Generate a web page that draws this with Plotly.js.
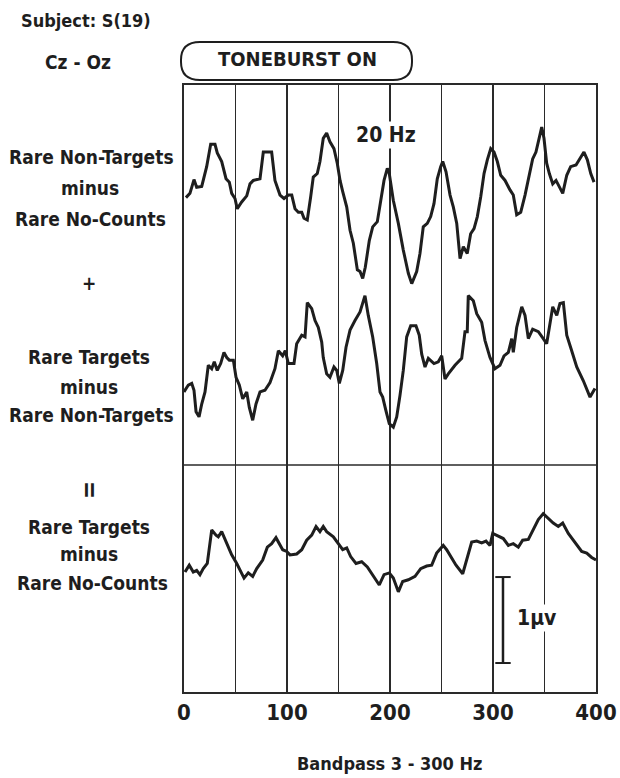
<!DOCTYPE html>
<html>
<head>
<meta charset="utf-8">
<script src="https://cdn.plot.ly/plotly-3.0.1.min.js"></script>
<style>
  html, body { margin: 0; padding: 0; background: #fff; }
  #chart { width: 620px; height: 778px; }
</style>
</head>
<body>
<div id="chart"></div>
<script>
// ---- Data (time in ms, amplitude in microvolts) ----
const TIME_NT_NC = [1.9,5.8,9.7,12.3,17.2,22.0,25.9,30.1,32.3,36.6,40.8,44.0,46.3,49.5,51.7,56.0,60.9,64.1,67.3,73.8,77.0,81.8,85.1,88.3,93.2,97.1,101.3,104.6,107.8,111.0,114.3,116.5,119.7,123.0,125.5,129.4,132.0,135.2,138.5,141.7,145.6,148.8,151.5,154.1,158.0,161.2,164.4,168.3,170.9,173.5,176.0,179.9,183.2,187.7,191.9,194.2,197.4,199.3,203.2,208.1,212.9,217.8,221.1,225.9,229.1,232.3,236.2,239.5,242.7,245.9,249.2,251.2,254.4,258.3,261.5,264.8,268.0,271.2,275.0,278.3,281.6,284.8,288.1,291.3,294.5,297.8,301.0,304.2,307.5,311.7,316.5,319.7,323.0,326.9,331.1,335.2,338.5,341.7,345.0,347.3,349.5,352.1,354.7,358.0,361.2,365.0,367.7,371.6,375.4,380.6,384.5,388.3,391.6,394.9,398.1];
const AMP_NT_NC = [0.03,0.08,0.24,0.15,0.16,0.39,0.65,0.65,0.55,0.45,0.25,0.21,0.08,0.02,-0.10,-0.02,0.05,0.19,0.23,0.25,0.56,0.56,0.56,0.23,0.06,0.02,0.06,0.06,-0.10,-0.14,-0.14,-0.21,-0.23,0.04,0.27,0.31,0.45,0.72,0.78,0.68,0.60,0.43,0.23,0.10,-0.08,-0.35,-0.50,-0.81,-0.83,-0.91,-0.78,-0.47,-0.31,-0.25,0.06,0.23,0.37,0.31,0.00,-0.27,-0.58,-0.85,-0.97,-0.83,-0.62,-0.31,-0.27,-0.19,-0.04,0.25,0.39,0.45,0.33,0.06,-0.08,-0.27,-0.68,-0.54,-0.62,-0.39,-0.33,-0.19,0.04,0.31,0.47,0.60,0.56,0.45,0.29,0.23,0.12,0.06,-0.17,-0.14,0.06,0.29,0.48,0.56,0.72,0.85,0.72,0.43,0.31,0.19,0.23,0.15,0.08,0.29,0.39,0.41,0.48,0.56,0.47,0.31,0.21];

const TIME_T_NT = [0.0,4.2,7.5,9.7,11.7,14.6,17.2,20.4,23.6,26.9,29.4,32.3,35.6,38.8,41.5,44.0,47.9,50.5,53.7,57.0,60.9,63.4,66.7,69.9,73.8,78.6,83.5,88.3,91.6,95.8,98.3,101.3,106.8,109.4,114.3,117.5,119.7,124.0,127.2,130.4,133.7,135.2,138.5,141.7,145.6,148.3,150.8,154.1,157.3,161.2,166.0,170.9,175.7,178.9,183.2,187.1,190.3,192.9,196.1,199.3,203.2,206.5,209.7,212.9,216.2,220.1,225.2,228.4,230.8,234.0,237.2,242.7,246.9,250.2,253.4,256.6,263.1,269.6,272.8,275.0,276.0,280.9,284.2,289.0,292.2,297.1,301.9,306.8,310.7,314.9,318.2,319.7,323.0,327.9,331.1,334.3,338.5,344.0,348.8,352.1,354.7,358.0,361.9,365.0,368.3,371.6,376.4,381.3,387.7,394.2,399.0];
const AMP_T_NT = [-0.25,-0.17,-0.15,-0.23,-0.48,-0.54,-0.39,-0.25,0.06,0.02,0.10,0.00,0.08,0.21,0.15,0.12,0.12,-0.08,-0.17,-0.33,-0.25,-0.43,-0.58,-0.39,-0.25,-0.23,-0.14,0.02,0.23,0.17,0.23,0.08,0.08,0.31,0.41,0.39,0.79,0.72,0.58,0.50,0.33,0.15,-0.04,-0.08,0.04,0.00,-0.15,0.00,0.27,0.47,0.58,0.68,0.87,0.64,0.39,0.08,-0.25,-0.31,-0.47,-0.62,-0.66,-0.54,-0.29,0.00,0.39,0.52,0.52,0.41,0.19,0.04,0.14,0.08,0.10,0.17,-0.10,-0.04,0.06,0.14,0.45,0.45,0.87,0.81,0.66,0.56,0.35,0.15,0.02,0.06,0.17,0.21,0.37,0.21,0.50,0.74,0.64,0.37,0.48,0.45,0.37,0.31,0.50,0.74,0.64,0.78,0.79,0.41,0.23,0.04,-0.12,-0.31,-0.21];

const TIME_T_NC = [1.0,5.1,9.0,12.3,15.5,18.7,22.6,26.9,31.1,33.3,36.6,41.5,46.3,51.2,54.4,58.3,62.4,66.7,70.6,76.4,80.9,85.1,89.3,92.5,95.8,99.7,102.9,109.4,114.3,119.1,124.0,128.2,132.0,135.2,138.5,145.0,149.8,154.1,158.0,161.8,167.0,172.5,178.0,183.8,189.6,194.2,199.3,203.2,208.1,212.3,217.8,224.3,229.8,235.6,240.5,245.3,251.7,255.0,258.9,264.1,270.6,274.5,279.3,284.2,289.0,293.2,297.1,299.7,305.1,310.0,314.9,319.7,324.6,328.8,334.3,339.1,344.0,348.8,353.7,358.5,363.4,367.7,373.1,379.6,386.1,391.0,395.8,400.0];
const AMP_T_NC = [-0.14,-0.06,-0.14,-0.12,-0.17,-0.10,-0.04,0.35,0.29,0.27,0.33,0.19,0.06,-0.04,-0.12,-0.21,-0.15,-0.19,-0.10,0.00,0.15,0.19,0.26,0.19,0.12,0.10,0.06,0.07,0.12,0.23,0.29,0.39,0.33,0.39,0.33,0.27,0.19,0.12,0.14,0.04,-0.04,-0.02,-0.08,-0.19,-0.29,-0.17,-0.15,-0.21,-0.37,-0.25,-0.23,-0.19,-0.10,-0.07,-0.06,0.08,0.17,0.12,0.04,-0.06,-0.16,0.00,0.21,0.22,0.20,0.22,0.17,0.31,0.28,0.25,0.17,0.19,0.15,0.23,0.24,0.35,0.47,0.54,0.48,0.43,0.39,0.43,0.31,0.21,0.10,0.08,0.03,0.00];

// Tick labels
const TICK_VALUES = [0,50,100,150,200,250,300,350,400];
const TICK_LABELS = ['0','','100','','200','','300','','400'];

// Trace baselines (microvolts on the shared vertical axis)
const BASE_1 = 5.72, BASE_2 = 3.74, BASE_3 = 1.535;
const Y_TOP = 7.06;
const DIVIDER = 2.64;
const SCALE_X = 309.7, SCALE_Y0 = 0.337, SCALE_LEN = 1;

const FONT = 'DejaVu Sans Condensed, Liberation Sans Narrow, Arial Narrow, sans-serif';
const INK = '#1e1e1e';

function wave(t, a, base) {
  return {
    x: t, y: a.map(v => v + base), type: 'scatter', mode: 'lines',
    line: {color: INK, width: 3}, hoverinfo: 'skip', showlegend: false
  };
}

const data = [
  wave(TIME_NT_NC, AMP_NT_NC, BASE_1),
  wave(TIME_T_NT, AMP_T_NT, BASE_2),
  wave(TIME_T_NC, AMP_T_NC, BASE_3),
  {
    x: [SCALE_X, SCALE_X], y: [SCALE_Y0, SCALE_Y0 + SCALE_LEN],
    type: 'scatter', mode: 'lines+markers',
    line: {color: INK, width: 2.5},
    marker: {symbol: 'line-ew-open', size: 11, color: INK, line: {width: 2, color: INK}},
    hoverinfo: 'skip', showlegend: false
  }
];

function lab(text, yPx, xPx, size, extra) {
  return Object.assign({
    text: text, xref: 'paper', yref: 'paper',
    x: (xPx - 184) / 412, y: (692 - yPx) / 607,
    xanchor: 'center', yanchor: 'middle', showarrow: false,
    font: {family: FONT, size: size || 19, color: INK, weight: 'bold'}
  }, extra || {});
}

const annotations = [
  lab('Subject: S(19)', 20, 19, 18, {xanchor: 'left'}),
  lab('Cz - Oz', 62, 78, 19),
  lab('TONEBURST ON', 59, 297, 20),
  lab('Rare Non-Targets', 157, 91),
  lab('minus', 188, 90),
  lab('Rare No-Counts', 219, 90),
  lab('+', 283, 89),
  lab('Rare Targets', 357, 89),
  lab('minus', 387, 89),
  lab('Rare Non-Targets', 415, 91),
  lab('=', 490, 89, 24, {textangle: 90}),
  lab('Rare Targets', 527, 89),
  lab('minus', 554, 89),
  lab('Rare No-Counts', 583, 92),
  lab('Bandpass 3 - 300 Hz', 763, 390, 18),
  {
    text: '20 Hz', xref: 'x', yref: 'y', x: 196, y: 6.48,
    showarrow: false, bgcolor: '#ffffff',
    font: {family: FONT, size: 21, color: INK, weight: 'bold'}
  },
  {
    text: '1\u03bcv', xref: 'x', yref: 'y', x: 343, y: 0.86,
    showarrow: false, bgcolor: '#ffffff',
    font: {family: FONT, size: 21, color: INK, weight: 'bold'}
  }
];

// Rounded toneburst box in paper units
const bx0 = (181 - 184) / 412, bx1 = (412 - 184) / 412;
const by0 = (692 - 80) / 607, by1 = (692 - 42) / 607;
const rx = 19 / 412, ry = 18 / 607;
const boxPath = `M ${bx0 + rx},${by1} L ${bx1 - rx},${by1} Q ${bx1},${by1} ${bx1},${by1 - ry} ` +
  `L ${bx1},${by0 + ry} Q ${bx1},${by0} ${bx1 - rx},${by0} L ${bx0 + rx},${by0} ` +
  `Q ${bx0},${by0} ${bx0},${by0 + ry} L ${bx0},${by1 - ry} Q ${bx0},${by1} ${bx0 + rx},${by1} Z`;

const layout = {
  width: 620, height: 778,
  margin: {l: 184, r: 24, t: 85, b: 86},
  paper_bgcolor: '#ffffff', plot_bgcolor: '#ffffff',
  showlegend: false,
  xaxis: {
    range: [0, 400], tickmode: 'array', tickvals: TICK_VALUES, ticktext: TICK_LABELS,
    showgrid: true, gridcolor: '#2a2a2a', gridwidth: 1.5,
    showline: true, linecolor: '#2a2a2a', linewidth: 1.6, mirror: true,
    ticks: '', zeroline: false, ticklabelstandoff: 0,
    tickfont: {family: FONT, size: 22, color: INK, weight: 'bold'},
    fixedrange: true
  },
  yaxis: {
    range: [0, Y_TOP], showgrid: false, showticklabels: false, ticks: '',
    showline: true, linecolor: '#2a2a2a', linewidth: 1.6, mirror: true,
    zeroline: false, fixedrange: true
  },
  shapes: [
    {type: 'line', xref: 'paper', yref: 'y', x0: 0, x1: 1, y0: DIVIDER, y1: DIVIDER,
     line: {color: '#2a2a2a', width: 1.4}},
    {type: 'path', xref: 'paper', yref: 'paper', path: boxPath,
     line: {color: INK, width: 2}}
  ],
  annotations: annotations
};

Plotly.newPlot('chart', data, layout, {displayModeBar: false, staticPlot: true});
</script>
</body>
</html>
